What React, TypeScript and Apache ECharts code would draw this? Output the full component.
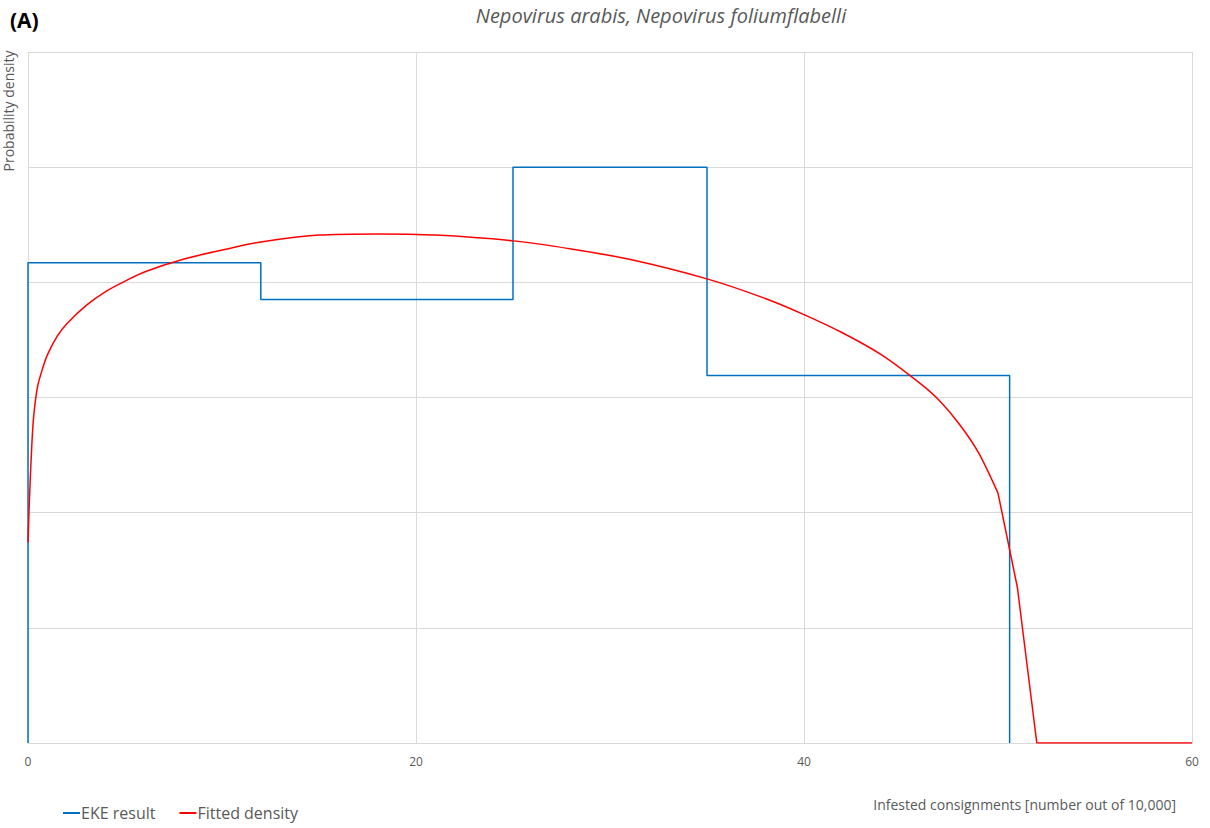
import React, { useEffect, useRef } from "react";
import * as echarts from "echarts";

const titleText = "Nepovirus arabis, Nepovirus foliumflabelli";
const panelLabel = "(A)";
const yAxisTitle = "Probability density";
const xAxisTitle = "Infested consignments [number out of 10,000]";
const seriesNames = ["EKE result", "Fitted density"];
const xTicks = [0, 20, 40, 60];

// EKE step histogram: bin edges and heights
const ekeEdges = [0, 12, 25, 35, 50.6];
const ekeHeights = [4.17, 3.85, 5.0, 3.19];

// Fitted density curve (smooth part, then the piecewise tail)
const fitX = [0, 0.05, 0.1, 0.2, 0.3, 0.5, 0.75, 1, 1.5, 2, 3, 4, 5, 6, 8, 10, 12, 15, 18, 21, 25, 28, 31, 35, 38, 40, 42, 44, 46, 47, 48, 49, 50];
const fitY = [1.74, 2.0, 2.22, 2.6, 2.85, 3.1, 3.25, 3.37, 3.53, 3.64, 3.8, 3.92, 4.01, 4.09, 4.2, 4.28, 4.35, 4.41, 4.42, 4.41, 4.36, 4.29, 4.2, 4.03, 3.86, 3.72, 3.56, 3.37, 3.12, 2.97, 2.77, 2.52, 2.17];
const tailX = [50, 51, 52, 60];
const tailY = [2.17, 1.35, 0, 0];

export default function App() {
  const ref = useRef<HTMLDivElement>(null);
  useEffect(() => {
    if (!ref.current) return;
    const chart = echarts.init(ref.current, undefined, { renderer: "svg" });
    const stepData: number[][] = [[ekeEdges[0], 0]];
    for (let i = 0; i < ekeHeights.length; i++) {
      stepData.push([ekeEdges[i], ekeHeights[i]]);
      stepData.push([ekeEdges[i + 1], ekeHeights[i]]);
    }
    stepData.push([ekeEdges[ekeEdges.length - 1], 0]);
    const fitData = fitX.map((x, i) => [x, fitY[i]]);
    const tailData = tailX.map((x, i) => [x, tailY[i]]);
    const font = "'Open Sans', 'Noto Sans', sans-serif";
    chart.setOption({
      animation: false,
      grid: { left: 28, right: 18, top: 52, bottom: 85, containLabel: false },
      xAxis: {
        type: "value",
        min: 0,
        max: 60,
        interval: 20,
        axisLine: { show: true, lineStyle: { color: "#d9d9d9" } },
        axisTick: { show: false },
        axisLabel: { color: "#595959", fontSize: 12, fontFamily: font, margin: 12, customValues: xTicks },
        splitLine: { show: true, lineStyle: { color: "#d9d9d9" } },
      },
      yAxis: {
        type: "value",
        min: 0,
        max: 6,
        interval: 1,
        axisLine: { show: true, lineStyle: { color: "#d9d9d9" } },
        axisTick: { show: false },
        axisLabel: { show: false },
        splitLine: { show: true, lineStyle: { color: "#d9d9d9" } },
      },
      legend: {
        left: 58,
        top: 800,
        itemGap: 24,
        itemWidth: 17,
        itemHeight: 2,
        icon: "rect",
        textStyle: { color: "#595959", fontSize: 16, fontFamily: font, padding: [0, 0, 0, -4] },
        data: seriesNames,
      },
      series: [
        {
          name: seriesNames[0],
          type: "line",
          data: stepData,
          showSymbol: false,
          lineStyle: { color: "#0070C0", width: 1.5 },
          itemStyle: { color: "#0070C0" },
        },
        {
          name: seriesNames[1],
          type: "line",
          data: fitData,
          smooth: 0.3,
          showSymbol: false,
          lineStyle: { color: "#FF0000", width: 1.5 },
          itemStyle: { color: "#FF0000" },
        },
        {
          name: seriesNames[1],
          type: "line",
          data: tailData,
          showSymbol: false,
          lineStyle: { color: "#FF0000", width: 1.5 },
          itemStyle: { color: "#FF0000" },
        },
      ],
      graphic: [
        { type: "text", left: 10, top: 9, style: { text: panelLabel, font: `bold 21px ${font}`, fill: "#000" } },
        { type: "text", x: 661, y: 15, style: { text: titleText, font: `italic 20px ${font}`, fill: "#595959", textAlign: "center", textVerticalAlign: "middle" } },
        { type: "text", x: 8, y: 111, rotation: Math.PI / 2, style: { text: yAxisTitle, font: `14px ${font}`, fill: "#595959", textAlign: "center", textVerticalAlign: "middle" } },
        { type: "text", x: 1176, y: 804, style: { text: xAxisTitle, font: `14px ${font}`, fill: "#595959", textAlign: "right", textVerticalAlign: "middle" } },
      ],
    });
    return () => chart.dispose();
  }, []);
  return <div ref={ref} style={{ width: 1210, height: 828, position: "absolute", left: 0, top: 0 }} />;
}
